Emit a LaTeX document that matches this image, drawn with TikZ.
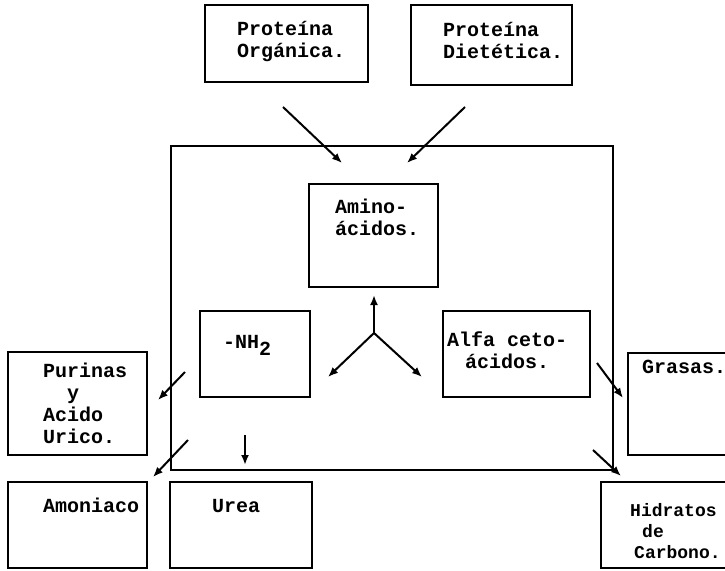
\documentclass[tikz,border=0pt]{standalone}
\usepackage{fontspec}
\setmonofont{Liberation Mono}
\usepackage{tikz}
\usetikzlibrary{positioning}
\usetikzlibrary{arrows.meta}
\tikzstyle{box}=[rectangle,draw,line width=1.6pt,inner sep=0pt,outer sep=0pt,anchor=north west]
\tikzstyle{edge}=[draw,line width=2pt,-{Latex[length=10pt,width=8pt]}]
\tikzset{lbl/.style={inner sep=0pt,align=left,font=\ttfamily\bfseries\fontsize{20}{22}\selectfont}}

\begin{document}
\begin{tikzpicture}[x=1pt,y=-1pt]

 \clip (0,0) rectangle (725,570);

 %boxes
 \foreach \x/\y/\w/\h/\name in {205/5/163/77/org, 411/5/161/80/diet, 171/146/442/324/cell,
   309/184/129/103/amino, 200/311/110/86/nh, 443/311/147/86/alfa,
   8/352/139/103/pur, 8/482/139/86/amon, 170/482/142/86/urea,
   628/353/110/102/gras, 601/482/140/86/hidr}
        \node[box,minimum width=\w pt,minimum height=\h pt] (\name) at (\x,\y) {};

 %labels (base = last line)
 \node[lbl, below right=52pt and 32pt of org.north west, anchor=base west] (orgt) {Proteína\\Orgánica.};
 \node[lbl, below right=53pt and 32pt of diet.north west, anchor=base west] (dietst) {Proteína\\Dietética.};
 \node[lbl, below right=51pt and 26pt of amino.north west, anchor=base west] (aminot) {Amino-\\ácidos.};
 \node[lbl, below right=37pt and 23pt of nh.north west, anchor=base west] (nht) {-NH\raisebox{-7pt}{2}};
 \node[lbl, align=center, below right=57pt and 4pt of alfa.north west, anchor=base west] (alfat) {Alfa ceto-\\ácidos.};
 \node[lbl, below right=91pt and 35pt of pur.north west, anchor=base west] (purt) {Purinas\\\hspace*{24pt}y\\Acido\\Urico.};
 \node[lbl, below right=30pt and 35pt of amon.north west, anchor=base west] (amont) {Amoniaco};
 \node[lbl, below right=30pt and 42pt of urea.north west, anchor=base west] (ureat) {Urea};
 \node[lbl, below right=20pt and 14pt of gras.north west, anchor=base west] (grast) {Grasas.};
 \node[lbl, font=\ttfamily\bfseries\fontsize{18}{21}\selectfont,
   below right=76pt and 29pt of hidr.north west, anchor=base west] (hidrt) {Hidratos\\\hspace*{12pt}de\\\hspace*{4pt}Carbono.};

 %arrow ends
 \foreach \x/\y/\name in {283/107/o1, 342/163/o2, 465/107/d1, 407/163/d2,
   374/333/y0, 374/295/ya, 328/377/yl, 422/377/yr,
   185/372/p1, 158/400/p2, 188/440/m1, 153/477/m2, 245/435/u1, 245/465/u2,
   597/363/g1, 623/398/g2, 593/450/h1, 621/476/h2}
        \coordinate (\name) at (\x,\y);

 \foreach \source/\dest in {o1/o2, d1/d2, y0/ya, y0/yl, y0/yr,
   p1/p2, m1/m2, u1/u2, g1/g2, h1/h2}
        \path[edge] (\source) -- (\dest);

\end{tikzpicture}
\end{document}
